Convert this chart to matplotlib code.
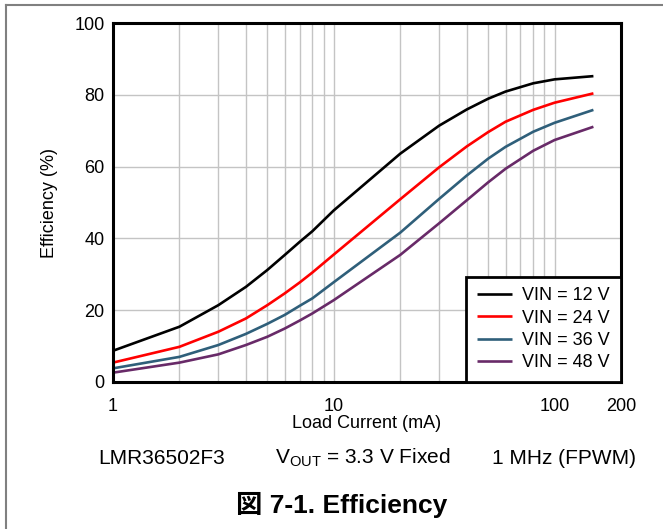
import matplotlib
matplotlib.use("Agg")
import matplotlib.pyplot as plt
from matplotlib.lines import Line2D

plt.rcParams['font.family'] = ['Liberation Sans', 'Noto Sans CJK JP']
plt.rcParams['mathtext.fontset'] = 'custom'
plt.rcParams['mathtext.rm'] = 'Liberation Sans'

load_ma = [1, 2, 3, 4, 5, 6, 7, 8, 10, 20, 30, 40, 50, 60, 80, 100, 150]
eff_12v = [8.7, 15.4, 21.4, 26.5, 31.2, 35.4, 39.0, 42.0, 47.8, 63.6, 71.4, 75.9, 78.9, 80.9, 83.2, 84.3, 85.2]
eff_24v = [5.4, 9.8, 14.0, 17.7, 21.4, 24.7, 27.7, 30.5, 35.5, 50.9, 59.8, 65.6, 69.6, 72.5, 75.8, 77.8, 80.4]
eff_36v = [3.8, 7.0, 10.3, 13.4, 16.2, 18.7, 21.2, 23.3, 27.8, 41.6, 51.0, 57.5, 62.2, 65.5, 69.7, 72.2, 75.8]
eff_48v = [2.6, 5.4, 7.7, 10.3, 12.6, 14.9, 17.1, 19.1, 22.8, 35.4, 44.2, 50.6, 55.6, 59.4, 64.4, 67.4, 71.1]
labels = ['VIN = 12 V', 'VIN = 24 V', 'VIN = 36 V', 'VIN = 48 V']
colors = ['#000000', '#ff0000', '#2f5f7a', '#682a68']

x_ticks = [1, 10, 100, 200]
y_ticks = [0, 20, 40, 60, 80, 100]

fig = plt.figure(figsize=(6.63, 5.29), dpi=100)
ax = fig.add_axes([113/663, 1 - 382/529, (621 - 113)/663, (382 - 23)/529])

for ys, lab, c in zip([eff_12v, eff_24v, eff_36v, eff_48v], labels, colors):
    ax.plot(load_ma, ys, color=c, lw=1.9, label=lab, solid_capstyle='butt')

ax.set_xscale('log')
ax.set_xlim(1, 200)
ax.set_ylim(0, 100)
ax.set_xticks(x_ticks)
ax.set_xticklabels([str(t) for t in x_ticks])
ax.set_yticks(y_ticks)
ax.xaxis.set_minor_formatter(plt.NullFormatter())
ax.tick_params(which='both', length=0, labelsize=13, pad=6)
ax.tick_params(axis='x', pad=11.5)
ax.grid(True, which='both', color='#c4c4c4', lw=1)
ax.set_axisbelow(True)
for s in ax.spines.values():
    s.set_linewidth(2.2)

ax.set_xlabel('Load Current (mA)', fontsize=13, labelpad=0)
ax.set_ylabel('Efficiency (%)', fontsize=13, labelpad=12)

leg = ax.legend(loc='lower right', bbox_to_anchor=(1, 0), borderaxespad=0,
                fancybox=False, framealpha=1, edgecolor='black', fontsize=13,
                handlelength=1.9, handletextpad=0.6, labelspacing=0.29,
                borderpad=0.6)
leg.get_frame().set_linewidth(2)

fig.text(0.2436, 0.134, 'LMR36502F3', fontsize=15, ha='center', va='center')
fig.text(0.5475, 0.134, r'V$_{\mathrm{OUT}}$ = 3.3 V Fixed', fontsize=15, ha='center', va='center')
fig.text(0.851, 0.134, '1 MHz (FPWM)', fontsize=15, ha='center', va='center')
fig.text(0.515, 0.046, '図 7-1. Efficiency', fontsize=19, fontweight='bold', ha='center', va='center')

fig.add_artist(Line2D([6/663, 1], [1 - 5/529, 1 - 5/529], color='#808080', lw=1.5))
fig.add_artist(Line2D([6/663, 6/663], [0, 1 - 5/529], color='#808080', lw=1.5))

fig.savefig('out.png', dpi=100)
